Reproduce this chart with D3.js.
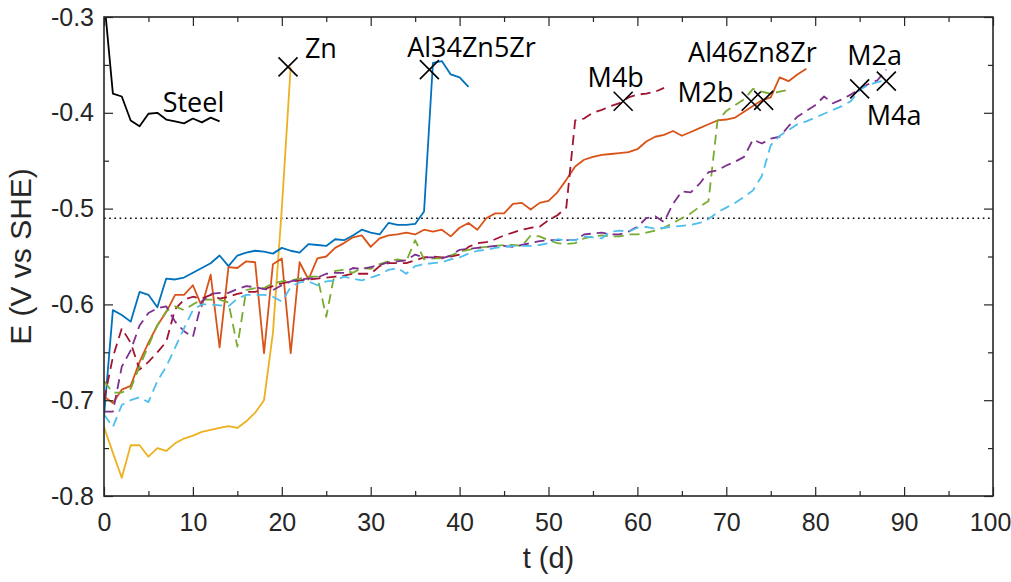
<!DOCTYPE html>
<html>
<head>
<meta charset="utf-8">
<script src="https://cdn.jsdelivr.net/npm/d3@7"></script>
<style>
  body { margin: 0; background: #fff; }
  .tick text { font-family: "Liberation Sans", Arial, sans-serif; }
</style>
</head>
<body>
<script>
// sampling days (one reading per day)
var days = [0, 1, 2, 3, 4, 5, 6, 7, 8, 9, 10, 11, 12, 13, 14, 15, 16, 17, 18, 19,
    20, 21, 22, 23, 24, 25, 26, 27, 28, 29, 30, 31, 32, 33, 34, 35, 36, 37, 38, 39,
    40, 41, 42, 43, 44, 45, 46, 47, 48, 49, 50, 51, 52, 53, 54, 55, 56, 57, 58, 59,
    60, 61, 62, 63, 64, 65, 66, 67, 68, 69, 70, 71, 72, 73, 74, 75, 76, 77, 78, 79,
    80, 81, 82, 83, 84, 85, 86, 87, 88]

// potentials E (V vs SHE), one value per day from day 0
var steel = [-0.280, -0.380, -0.383, -0.408, -0.414, -0.401, -0.400, -0.407, -0.409, -0.411,
    -0.406, -0.410, -0.405, -0.409]

var zn = [-0.728, -0.755, -0.781, -0.747, -0.747, -0.759, -0.750, -0.753, -0.745, -0.740,
    -0.737, -0.733, -0.731, -0.729, -0.727, -0.729, -0.722, -0.713, -0.700, -0.630,
    -0.500, -0.352]

var al34 = [-0.717, -0.606, -0.611, -0.618, -0.587, -0.590, -0.603, -0.573, -0.574, -0.572,
    -0.567, -0.562, -0.557, -0.549, -0.560, -0.549, -0.546, -0.544, -0.545, -0.547,
    -0.541, -0.544, -0.546, -0.537, -0.538, -0.539, -0.532, -0.533, -0.528, -0.522,
    -0.525, -0.527, -0.515, -0.517, -0.517, -0.516, -0.503, -0.348, -0.346, -0.360,
    -0.363, -0.373]

var al46 = [-0.696, -0.703, -0.689, -0.685, -0.660, -0.640, -0.622, -0.608, -0.590, -0.590,
    -0.580, -0.602, -0.569, -0.645, -0.561, -0.562, -0.555, -0.556, -0.651, -0.558,
    -0.552, -0.651, -0.556, -0.574, -0.552, -0.550, -0.541, -0.536, -0.530, -0.528,
    -0.540, -0.531, -0.528, -0.527, -0.525, -0.527, -0.522, -0.524, -0.522, -0.529,
    -0.520, -0.515, -0.522, -0.510, -0.505, -0.505, -0.495, -0.494, -0.501, -0.494,
    -0.492, -0.483, -0.470, -0.456, -0.449, -0.446, -0.444, -0.443, -0.442, -0.441,
    -0.438, -0.430, -0.425, -0.423, -0.419, -0.424, -0.420, -0.416, -0.412, -0.408,
    -0.407, -0.405, -0.399, -0.393, -0.387, -0.384, -0.363, -0.367, -0.360, -0.354]

var m4b = [-0.700, -0.655, -0.625, -0.640, -0.668, -0.660, -0.650, -0.639, -0.605, -0.595,
    -0.592, -0.594, -0.590, -0.594, -0.592, -0.589, -0.587, -0.587, -0.584, -0.581,
    -0.578, -0.576, -0.575, -0.574, -0.573, -0.572, -0.571, -0.570, -0.568, -0.568,
    -0.568, -0.560, -0.557, -0.557, -0.557, -0.554, -0.551, -0.550, -0.551, -0.550,
    -0.548, -0.540, -0.536, -0.535, -0.532, -0.528, -0.525, -0.522, -0.520, -0.519,
    -0.512, -0.507, -0.499, -0.408, -0.406, -0.400, -0.397, -0.393, -0.390, -0.384,
    -0.381, -0.380, -0.378, -0.374]

var m2b = [-0.680, -0.692, -0.692, -0.688, -0.665, -0.643, -0.622, -0.607, -0.602, -0.606,
    -0.600, -0.595, -0.595, -0.595, -0.598, -0.644, -0.585, -0.583, -0.583, -0.578,
    -0.576, -0.575, -0.573, -0.571, -0.571, -0.613, -0.565, -0.564, -0.567, -0.562,
    -0.563, -0.558, -0.555, -0.553, -0.555, -0.533, -0.553, -0.552, -0.552, -0.549,
    -0.545, -0.543, -0.541, -0.540, -0.539, -0.538, -0.538, -0.539, -0.528, -0.529,
    -0.533, -0.536, -0.537, -0.536, -0.531, -0.529, -0.528, -0.529, -0.529, -0.527,
    -0.527, -0.525, -0.523, -0.520, -0.515, -0.510, -0.505, -0.498, -0.492, -0.409,
    -0.398, -0.392, -0.386, -0.375, -0.378, -0.380, -0.378, -0.376]

var m2a = [-0.712, -0.712, -0.665, -0.648, -0.622, -0.609, -0.604, -0.602, -0.618, -0.628,
    -0.634, -0.597, -0.589, -0.588, -0.588, -0.584, -0.581, -0.582, -0.584, -0.585,
    -0.580, -0.576, -0.574, -0.573, -0.572, -0.568, -0.567, -0.567, -0.562, -0.563,
    -0.561, -0.559, -0.556, -0.555, -0.554, -0.548, -0.551, -0.551, -0.552, -0.549,
    -0.543, -0.542, -0.541, -0.540, -0.539, -0.539, -0.540, -0.538, -0.536, -0.534,
    -0.533, -0.533, -0.533, -0.533, -0.527, -0.526, -0.525, -0.527, -0.527, -0.524,
    -0.519, -0.510, -0.508, -0.514, -0.495, -0.482, -0.483, -0.474, -0.462, -0.460,
    -0.455, -0.451, -0.446, -0.428, -0.432, -0.427, -0.425, -0.414, -0.404, -0.398,
    -0.392, -0.383, -0.390, -0.386, -0.381, -0.375, -0.370, -0.366, -0.355]

var m4a = [-0.715, -0.728, -0.705, -0.700, -0.697, -0.702, -0.680, -0.665, -0.645, -0.625,
    -0.606, -0.600, -0.600, -0.601, -0.602, -0.594, -0.590, -0.590, -0.590, -0.592,
    -0.597, -0.582, -0.577, -0.576, -0.580, -0.576, -0.575, -0.571, -0.573, -0.575,
    -0.572, -0.569, -0.564, -0.562, -0.568, -0.560, -0.558, -0.557, -0.556, -0.553,
    -0.551, -0.547, -0.544, -0.543, -0.541, -0.540, -0.539, -0.539, -0.539, -0.538,
    -0.536, -0.532, -0.533, -0.533, -0.529, -0.530, -0.531, -0.524, -0.523, -0.524,
    -0.520, -0.519, -0.521, -0.520, -0.519, -0.518, -0.517, -0.515, -0.511, -0.504,
    -0.499, -0.494, -0.488, -0.481, -0.466, -0.434, -0.424, -0.418, -0.412, -0.409,
    -0.405, -0.401, -0.397, -0.393, -0.388, -0.376, -0.371, -0.368, -0.366]

// reference potential drawn as dotted line
var refPotential = -0.51

// failure points (X markers): day, potential
var failT = [20.7, 36.6, 58.4, 72.8, 74.2, 85.0, 88.0]
var failE = [-0.352, -0.355, -0.388, -0.388, -0.387, -0.375, -0.367]

// sample labels with their anchor (day, potential of baseline)
var labelText = ["Steel", "Zn", "Al34Zn5Zr", "M4b", "M2b", "Al46Zn8Zr", "M2a", "M4a"]
var labelT = [6.6, 22.6, 34.1, 54.4, 64.5, 65.7, 83.6, 85.8]
var labelE = [-0.399, -0.343, -0.342, -0.373, -0.389, -0.347, -0.350, -0.413]

var xTicks = [0, 10, 20, 30, 40, 50, 60, 70, 80, 90, 100]
var xMinor = [5, 15, 25, 35, 45, 55, 65, 75, 85, 95]
var yTicks = [-0.8, -0.7, -0.6, -0.5, -0.4, -0.3]
var yMinor = [-0.75, -0.65, -0.55, -0.45, -0.35]

var series = [
    { name: "Steel", values: steel, color: "#000000", dash: null },
    { name: "Zn", values: zn, color: "#EDB120", dash: null },
    { name: "Al34Zn5Zr", values: al34, color: "#0072BD", dash: null },
    { name: "Al46Zn8Zr", values: al46, color: "#D95319", dash: null },
    { name: "M4b", values: m4b, color: "#A2142F", dash: "10,6" },
    { name: "M2b", values: m2b, color: "#77AC30", dash: "10,6" },
    { name: "M2a", values: m2a, color: "#7E2F8E", dash: "10,6" },
    { name: "M4a", values: m4a, color: "#4DBEEE", dash: "10,6" }
]

var margin = { top: 17, right: 18, bottom: 86, left: 104 }
var W = 1011, H = 582
var width = W - margin.left - margin.right
var height = H - margin.top - margin.bottom

var xScale = d3.scaleLinear().domain([0, 100]).range([margin.left, margin.left + width])
var yScale = d3.scaleLinear().domain([-0.8, -0.3]).range([margin.top + height, margin.top])

var svg = d3.select("body").append("svg")
    .attr("width", W)
    .attr("height", H)

svg.append("defs").append("clipPath")
    .attr("id", "plotClip")
    .append("rect")
    .attr("x", margin.left)
    .attr("y", margin.top)
    .attr("width", width)
    .attr("height", height)

var plot = svg.append("g").attr("clip-path", "url(#plotClip)")

// dotted reference line
plot.append("line")
    .attr("x1", xScale(0))
    .attr("x2", xScale(100))
    .attr("y1", yScale(refPotential))
    .attr("y2", yScale(refPotential))
    .style("stroke", "#000")
    .style("stroke-width", 1.6)
    .style("stroke-dasharray", "1.6,3.6")

var line = d3.line()
    .x(function (d) { return xScale(d.t) })
    .y(function (d) { return yScale(d.e) })

series.forEach(function (s) {
    var pts = s.values.map(function (v, i) { return { t: days[i], e: v } })
    plot.append("path")
        .datum(pts)
        .attr("d", line)
        .style("fill", "none")
        .style("stroke", s.color)
        .style("stroke-width", 1.8)
        .style("stroke-linejoin", "round")
        .style("stroke-dasharray", s.dash)
})

// X markers
var m = 9.5
failT.forEach(function (t, i) {
    var cx = xScale(t), cy = yScale(failE[i])
    svg.append("path")
        .attr("d", "M" + (cx - m) + "," + (cy - m) + "L" + (cx + m) + "," + (cy + m) +
            "M" + (cx - m) + "," + (cy + m) + "L" + (cx + m) + "," + (cy - m))
        .style("stroke", "#000")
        .style("stroke-width", 1.6)
        .style("fill", "none")
})

// sample labels
labelText.forEach(function (txt, i) {
    svg.append("text")
        .attr("x", xScale(labelT[i]))
        .attr("y", yScale(labelE[i]))
        .style("font-family", "'Open Sans', sans-serif")
        .style("font-size", "27px")
        .style("fill", "#000")
        .text(txt)
})

// axes, ticks pointing inward like MATLAB
function styleAxis(g) {
    g.select(".domain").remove()
    g.selectAll(".tick line").style("stroke", "#262626").style("stroke-width", 1.2)
    g.selectAll(".tick text").style("font-size", "25px").style("fill", "#262626")
}

var xAxisG = svg.append("g")
    .attr("transform", "translate(0," + (margin.top + height) + ")")
    .call(d3.axisBottom(xScale).tickValues(xTicks).tickSize(-9).tickPadding(17).tickFormat(d3.format("d")))
    .call(styleAxis)
// keep the last label inside the picture
xAxisG.selectAll(".tick text").filter(function (d) { return d === 100 }).attr("dx", -3)

svg.append("g")
    .attr("transform", "translate(0," + (margin.top + height) + ")")
    .call(d3.axisBottom(xScale).tickValues(xMinor).tickSize(-5).tickFormat(""))
    .call(styleAxis)
svg.append("g")
    .attr("transform", "translate(0," + margin.top + ")")
    .call(d3.axisTop(xScale).tickValues(xTicks).tickSize(-9).tickFormat(""))
    .call(styleAxis)
svg.append("g")
    .attr("transform", "translate(0," + margin.top + ")")
    .call(d3.axisTop(xScale).tickValues(xMinor).tickSize(-5).tickFormat(""))
    .call(styleAxis)

svg.append("g")
    .attr("transform", "translate(" + margin.left + ",0)")
    .call(d3.axisLeft(yScale).tickValues(yTicks).tickSize(-9).tickPadding(10).tickFormat(d3.format(".1f")))
    .call(styleAxis)
svg.append("g")
    .attr("transform", "translate(" + margin.left + ",0)")
    .call(d3.axisLeft(yScale).tickValues(yMinor).tickSize(-5).tickFormat(""))
    .call(styleAxis)
svg.append("g")
    .attr("transform", "translate(" + (margin.left + width) + ",0)")
    .call(d3.axisRight(yScale).tickValues(yTicks).tickSize(-9).tickFormat(""))
    .call(styleAxis)
svg.append("g")
    .attr("transform", "translate(" + (margin.left + width) + ",0)")
    .call(d3.axisRight(yScale).tickValues(yMinor).tickSize(-5).tickFormat(""))
    .call(styleAxis)

// hyphen minus like the original
svg.selectAll(".tick text")
    .text(function () { return d3.select(this).text().replace("−", "-") })

// box
svg.append("rect")
    .attr("x", margin.left)
    .attr("y", margin.top)
    .attr("width", width)
    .attr("height", height)
    .style("fill", "none")
    .style("stroke", "#262626")
    .style("stroke-width", 1.6)

// axis titles
svg.append("text")
    .attr("x", xScale(50))
    .attr("y", 568)
    .style("text-anchor", "middle")
    .style("font-family", "'Liberation Sans', Arial, sans-serif")
    .style("font-size", "29px")
    .style("fill", "#262626")
    .text("t (d)")

svg.append("text")
    .attr("transform", "translate(31," + yScale(-0.55) + ") rotate(-90)")
    .style("text-anchor", "middle")
    .style("font-family", "'Liberation Sans', Arial, sans-serif")
    .style("font-size", "30px")
    .style("fill", "#262626")
    .text("E (V vs SHE)")
</script>
</body>
</html>
